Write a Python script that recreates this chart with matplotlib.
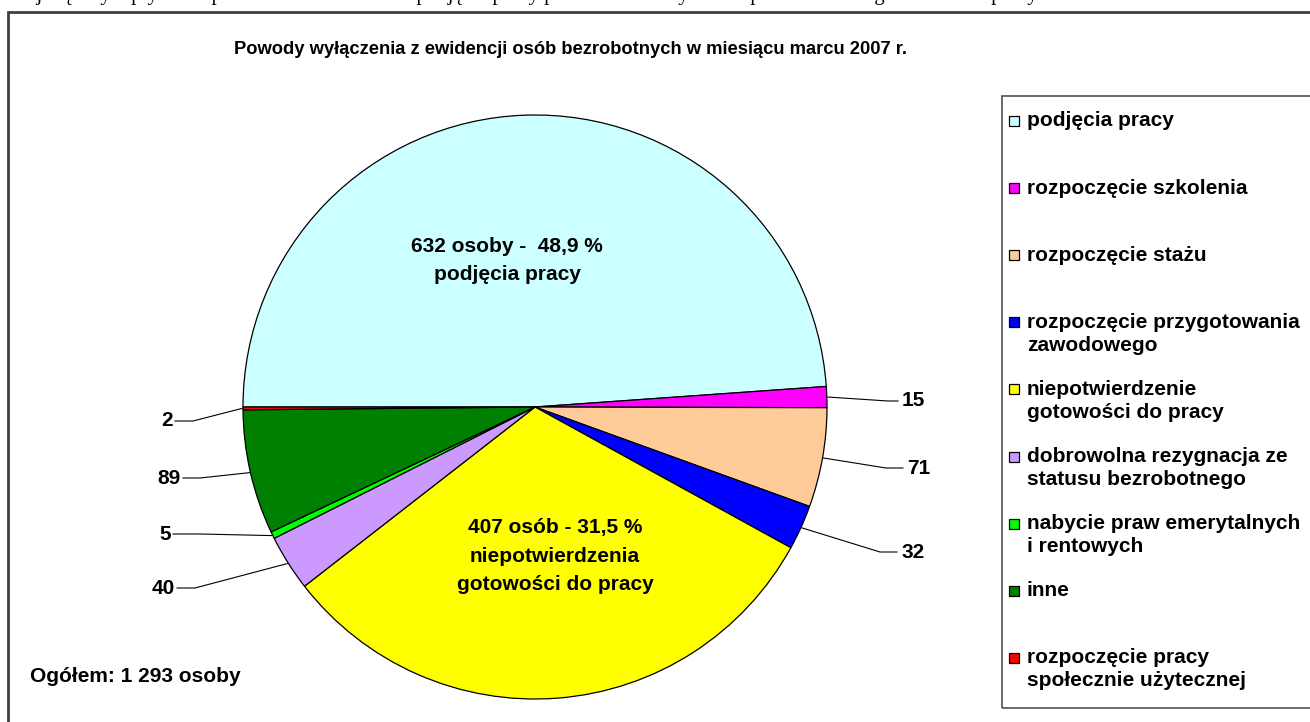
import matplotlib
matplotlib.use('Agg')
import matplotlib.pyplot as plt
from matplotlib.patches import Rectangle
import numpy as np

plt.rcParams['font.family'] = ['Liberation Sans', 'DejaVu Sans']

# Data
categories = ['podjęcia pracy', 'rozpoczęcie szkolenia', 'rozpoczęcie stażu',
              'rozpoczęcie przygotowania\nzawodowego',
              'niepotwierdzenie\ngotowości do pracy',
              'dobrowolna rezygnacja ze\nstatusu bezrobotnego',
              'nabycie praw emerytalnych\ni rentowych',
              'inne',
              'rozpoczęcie pracy\nspołecznie użytecznej']
values = [632, 15, 71, 32, 407, 40, 5, 89, 2]
colors = ['#CCFFFF', '#FF00FF', '#FFCC99', '#0000FF', '#FFFF00',
          '#CC99FF', '#00FF00', '#008000', '#FF0000']
title = 'Powody wyłączenia z ewidencji osób bezrobotnych w miesiącu marcu 2007 r.'
total_text = 'Ogółem: 1 293 osoby'

W, H = 1310, 722
fig = plt.figure(figsize=(W / 100, H / 100), dpi=100)
ax = fig.add_axes([0, 0, 1, 1])


def py(y):
    # pixel row (from top) -> data y
    return H - y


# pie geometry (pixels)
cx, cy, R = 535, 407, 292
wedges, _ = ax.pie(values, colors=colors, startangle=180, counterclock=False,
                   center=(cx, py(cy)), radius=R, frame=True,
                   wedgeprops=dict(edgecolor='black', linewidth=0.9))
ax.set_xlim(0, W)
ax.set_ylim(0, H)
ax.set_aspect('auto')
ax.axis('off')

# cut-off line of body text above the chart
ax.text(12, py(0), 'Największy wpływ na spadek bezrobocia miało podjęcie pracy przez '
        'bezrobotnych i niepotwierdzenie gotowości do pracy',
        family='Liberation Serif', fontsize=15, va='baseline', ha='left')

# outer frame
ax.add_patch(Rectangle((8, -20), W + 20, py(12) + 20, fill=False,
                       edgecolor='#404040', linewidth=2))

ax.text(570, py(50), title, fontsize=13.2, fontweight='bold', ha='center', va='center')
ax.text(30, py(676), total_text, fontsize=15, fontweight='bold', ha='left', va='center')

# inner labels
tot = sum(values)


def pct(v):
    return '{:.1f}'.format(100.0 * v / tot).replace('.', ',')


inner = {
    0: (507, 247, ['{} osoby -  {} %'.format(values[0], pct(values[0])), 'podjęcia pracy']),
    4: (555, 528, ['{} osób - {} %'.format(values[4], pct(values[4])),
                   'niepotwierdzenia', 'gotowości do pracy']),
}
for i, (x, y, lines) in inner.items():
    for k, ln in enumerate(lines):
        ax.text(x, py(y + 28 * k), ln, fontsize=15, fontweight='bold',
                ha='center', va='center')

# leader lines for small slices: (elbow x, elbow y, end x)
leaders = {1: (888, 401, 898), 2: (886, 468, 903), 3: (880, 552, 897),
           5: (195, 588, 177), 6: (200, 534, 173), 7: (200, 478, 183),
           8: (193, 421, 175)}
for i, (ex, ey, endx) in leaders.items():
    w = wedges[i]
    mid = np.deg2rad((w.theta1 + w.theta2) / 2.0)
    sx = cx + (R + 1) * np.cos(mid)
    sy = py(cy) + (R + 1) * np.sin(mid)
    ax.plot([sx, ex, endx], [sy, py(ey), py(ey)], color='black', linewidth=0.8)
    right = endx > cx
    ax.text(endx + (4 if right else -2), py(ey), str(values[i]), fontsize=15,
            fontweight='bold', ha='left' if right else 'right', va='center')

# legend
ax.add_patch(Rectangle((1002, py(708)), 400, 612, fill=False,
                       edgecolor='#505050', linewidth=1.2))
for i, (lab, col) in enumerate(zip(categories, colors)):
    y0 = 121 + 67.1 * i
    ax.add_patch(Rectangle((1009, py(y0) - 5), 10, 10, facecolor=col,
                           edgecolor='black', linewidth=0.9))
    for k, ln in enumerate(lab.split('\n')):
        ax.text(1027, py(y0 + 23 * k), ln, fontsize=15, fontweight='bold',
                ha='left', va='center')

fig.savefig('out.png', dpi=100)
